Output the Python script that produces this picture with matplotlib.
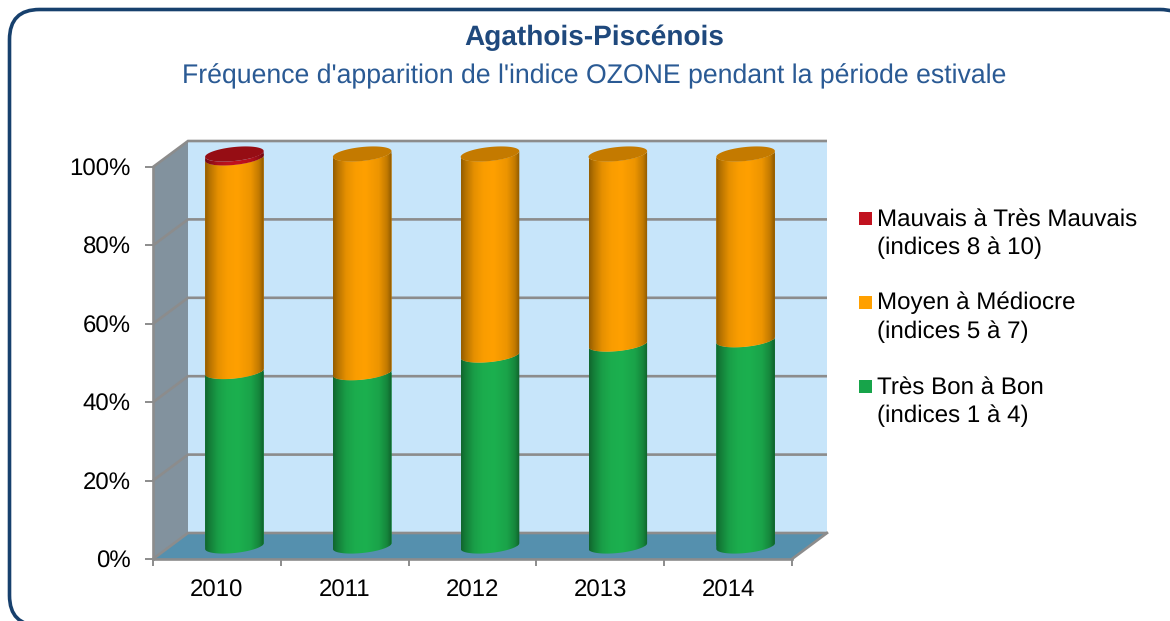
import numpy as np
import matplotlib
matplotlib.use("Agg")
import matplotlib.pyplot as plt
from matplotlib.patches import FancyBboxPatch, Polygon, Rectangle

plt.rcParams['font.family'] = ['Liberation Sans', 'DejaVu Sans']
plt.rcParams['text.hinting'] = 'none'

# ---- data ----
years = ['2010', '2011', '2012', '2013', '2014']
tres_bon = [44.5, 44.2, 48.7, 51.5, 52.6]
moyen = [54.5, 55.8, 51.3, 48.5, 47.4]
mauvais = [1.0, 0.0, 0.0, 0.0, 0.0]
y_ticks = [0, 20, 40, 60, 80, 100]
y_labels = ['0%', '20%', '40%', '60%', '80%', '100%']
title = 'Agathois-Piscénois'
subtitle = "Fréquence d'apparition de l'indice OZONE pendant la période estivale"
legend_labels = ['Mauvais à Très Mauvais\n(indices 8 à 10)',
                 'Moyen à Médiocre\n(indices 5 à 7)',
                 'Très Bon à Bon\n(indices 1 à 4)']

# ---- styles ----
GREEN, ORANGE, RED = '#1cb04f', '#ffa000', '#c1111e'
LEG_GREEN, LEG_ORANGE, LEG_RED = '#17a44a', '#ffa000', '#c1121f'
CAP = {ORANGE: '#c47a00', RED: '#960d14', GREEN: '#148a3c'}
GRAY = '#8c8c8c'
W, H = 1170, 621
L_PX, R_PX, B_PX, T_PX = 153, 792, 559, 167

fig = plt.figure(figsize=(W / 100, H / 100), dpi=100, facecolor='white')

# background layer in pixel coordinates
bg = fig.add_axes([0, 0, 1, 1], zorder=0)
bg.set_xlim(0, W)
bg.set_ylim(H, 0)
bg.axis('off')
bg.add_patch(FancyBboxPatch((39.5, 39.5), 1120.5, 556, boxstyle='round,pad=30,rounding_size=30',
                            fc='white', ec='#17406d', lw=2.6, clip_on=True))
bg.text(594.5, 38, title, ha='center', va='center', fontsize=20.2, fontweight='bold', color='#1f497d')
bg.text(594, 76, subtitle, ha='center', va='center', fontsize=19.2, color='#2a5a94')

# legend
for y0, lab, col in zip([212, 296, 380], legend_labels, [LEG_RED, LEG_ORANGE, LEG_GREEN]):
    bg.add_patch(Rectangle((859, y0), 13, 13, fc=col, ec='none'))
    bg.text(877, y0 + 42.5, lab, ha='left', va='baseline', fontsize=17.4, color='black', linespacing=1.36)

# chart axes: front plane
ax = fig.add_axes([L_PX / W, (H - B_PX) / H, (R_PX - L_PX) / W, (B_PX - T_PX) / H], zorder=1)
ax.patch.set_alpha(0)
n = len(years)
px_x = (R_PX - L_PX) / n
px_y = (B_PX - T_PX) / 100
DX, DY = 35 / px_x, 26 / px_y

# walls and floor
ax.add_patch(Polygon([(DX, DY), (n + DX, DY), (n + DX, 100 + DY), (DX, 100 + DY)],
                     fc='#c7e5fa', ec='none', zorder=1, clip_on=False))
ax.add_patch(Polygon([(0, 0), (DX, DY), (DX, 100 + DY), (0, 100)],
                     fc='#82929e', ec='none', zorder=1, clip_on=False))
ax.add_patch(Polygon([(0, 0), (n, 0), (n + DX, DY), (DX, DY)],
                     fc='#5590ae', ec='none', zorder=1, clip_on=False))
for v in y_ticks:
    ax.plot([0, DX, n + DX], [v, v + DY, v + DY], color=GRAY, lw=1.9, zorder=2, clip_on=False,
            solid_capstyle='butt', solid_joinstyle='miter')
ax.plot([n, n + DX], [0, DY], color=GRAY, lw=1.9, zorder=2, clip_on=False)

# cylinders
half_w = 29.3 / px_x
half_h = 7 / px_y
shear = -2.9 / px_y  # drop of the ellipse at its left edge
t = np.linspace(0, np.pi, 60)
fx = np.array([0, .08, .22, .38, .55, .78, .92, 1])
fv = np.array([.58, .72, .90, .98, 1, .93, .76, .55])


def gradient(color):
    rgb = np.array(matplotlib.colors.to_rgb(color))
    u = np.linspace(0, 1, 116)
    return (np.interp(u, fx, fv)[None, :, None] * rgb[None, None, :]).clip(0, 1)


def draw_segment(i, v0, v1, color, z):
    cx = i + 0.5 + DX / 2
    lo_x = cx - half_w * np.cos(t)
    lo_dy = -half_h * np.sin(t) + shear * np.cos(t)
    lower = np.c_[lo_x, v0 + DY / 2 + lo_dy]
    upper = np.c_[lo_x[::-1], v1 + DY / 2 + lo_dy[::-1]]
    clip = Polygon(np.r_[lower, upper], transform=ax.transData)
    bar = ax.bar(cx, v1 - v0, half_w * 2, bottom=v0 + DY / 2, color=color, zorder=z)[0]
    bar.set_clip_box(fig.bbox)
    bar.set_clip_path(clip)
    im = ax.imshow(gradient(color), extent=(cx - half_w, cx + half_w, v0 - 5, v1 + DY + 5),
                   aspect='auto', zorder=z + 0.1, interpolation='bilinear')
    im.set_clip_box(fig.bbox)
    im.set_clip_path(clip)


def draw_cap(i, v, color, z):
    cx = i + 0.5 + DX / 2
    a = np.linspace(0, 2 * np.pi, 120)
    xy = np.c_[cx - half_w * np.cos(a), v + DY / 2 - half_h * np.sin(a) + shear * np.cos(a)]
    ax.add_patch(Polygon(xy, fc=color, ec='none', zorder=z, clip_on=False))


for i in range(n):
    a, b, c = tres_bon[i], moyen[i], mauvais[i]
    draw_segment(i, 0, a, GREEN, 3)
    draw_segment(i, a, a + b, ORANGE, 4)
    if c > 0:
        draw_segment(i, a + b, a + b + c, RED, 5)
        draw_cap(i, a + b + c, CAP[RED], 6)
    else:
        draw_cap(i, a + b, CAP[ORANGE], 6)

ax.set_xlim(0, n)
ax.set_ylim(0, 100)
for s in ['top', 'right']:
    ax.spines[s].set_visible(False)
for s in ['left', 'bottom']:
    ax.spines[s].set_color(GRAY)
    ax.spines[s].set_linewidth(1.9)
    ax.spines[s].set_zorder(7)
ax.set_yticks(y_ticks, y_labels)
ax.set_xticks(np.arange(n + 1), [''] * (n + 1))
ax.set_xticks(np.arange(n) + 0.5, years, minor=True)
ax.tick_params(axis='y', length=6, width=1.4, color=GRAY, labelsize=17.3, labelcolor='black', pad=10)
ax.tick_params(axis='x', which='major', length=5, width=1.4, color=GRAY)
ax.tick_params(axis='x', which='minor', length=0, labelsize=17.3, labelcolor='black', pad=14.5)

fig.savefig('out.png', dpi=100)
